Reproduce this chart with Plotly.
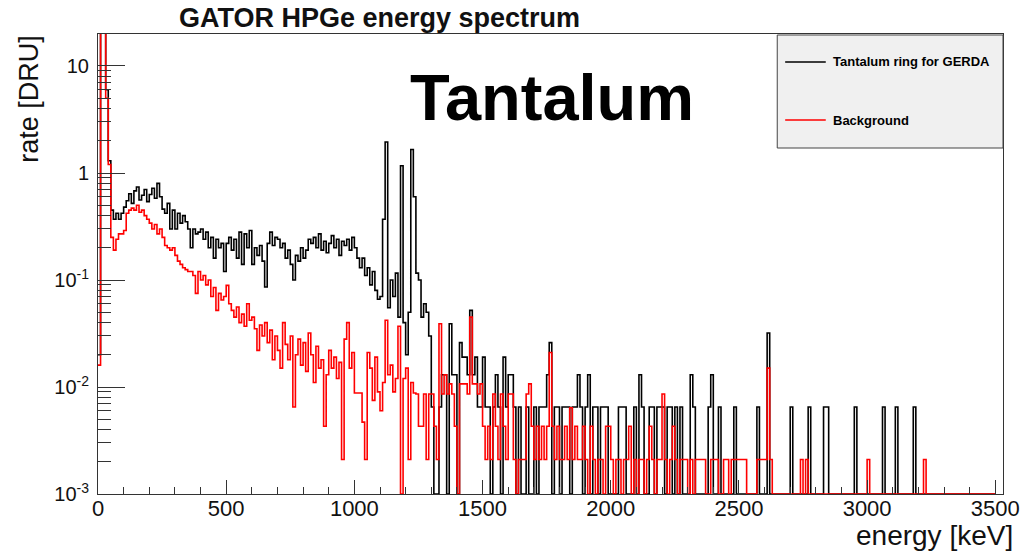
import numpy as np
import plotly.graph_objects as go

# ---------------- data (rate in DRU per 10 keV bin, 0..3500 keV) ----------------
BIN_WIDTH_KEV = 10

tantalum_rate = [
    0.02, 30, 30, 6, 1.3, 0.45, 0.37, 0.42, 0.37, 0.42,
    0.48, 0.55, 0.64, 0.52, 0.68, 0.74, 0.56, 0.62, 0.7, 0.54,
    0.63, 0.72, 0.58, 0.8, 0.6, 0.46, 0.42, 0.52, 0.3, 0.45,
    0.3, 0.42, 0.34, 0.4, 0.35, 0.3, 0.2, 0.3, 0.27, 0.28,
    0.3, 0.24, 0.28, 0.2, 0.25, 0.16, 0.24, 0.2, 0.22, 0.12,
    0.22, 0.25, 0.19, 0.24, 0.16, 0.28, 0.14, 0.27, 0.2, 0.29,
    0.14, 0.2, 0.17, 0.21, 0.15, 0.086, 0.22, 0.28, 0.21, 0.25,
    0.24, 0.2, 0.22, 0.16, 0.19, 0.14, 0.1, 0.17, 0.15, 0.2,
    0.16, 0.19, 0.24, 0.22, 0.25, 0.2, 0.27, 0.19, 0.23, 0.18,
    0.22, 0.26, 0.2, 0.24, 0.17, 0.23, 0.21, 0.24, 0.19, 0.25,
    0.2, 0.16, 0.13, 0.16, 0.11, 0.13, 0.09, 0.12, 0.08, 0.066,
    0.07, 0.37, 1.95, 0.055, 0.1, 0.07, 0.116, 0.045, 1.17, 0.04,
    0.02, 0.05, 1.66, 0.6, 0.116, 0.1, 0.045, 0.06, 0.05, 0.03,
    0.0065, 0, 0, 0.0065, 0.013, 0.013, 0, 0.039, 0.013, 0.013,
    0, 0.026, 0.019, 0.019, 0.013, 0.052, 0.013, 0.019, 0.0065, 0.0065,
    0.019, 0.0065, 0.0065, 0, 0.0065, 0.013, 0.0065, 0, 0.019, 0.0065,
    0.013, 0.013, 0.0065, 0, 0.0065, 0, 0, 0.0065, 0, 0,
    0.0065, 0, 0.0065, 0.0065, 0.0065, 0.013, 0.026, 0, 0.0065, 0.0065,
    0, 0.0065, 0.0065, 0.0065, 0, 0.0065, 0.0065, 0.013, 0.0065, 0,
    0.0065, 0.013, 0, 0.0065, 0.0065, 0, 0.0065, 0.0065, 0.0065, 0,
    0, 0, 0, 0.0065, 0.0065, 0.0065, 0, 0, 0, 0.0065,
    0, 0.013, 0.0065, 0, 0, 0.0065, 0.0065, 0, 0.0065, 0.0065,
    0.0065, 0, 0.0065, 0.0065, 0, 0.0065, 0, 0.0065, 0, 0,
    0, 0.013, 0.0065, 0, 0, 0, 0, 0, 0.0065, 0.013,
    0, 0, 0.0065, 0, 0, 0, 0, 0, 0.0065, 0,
    0, 0, 0, 0, 0, 0, 0, 0.0065, 0, 0,
    0, 0.032, 0, 0, 0, 0, 0, 0, 0, 0,
    0.0065, 0, 0, 0, 0, 0, 0, 0.0065, 0, 0,
    0, 0, 0, 0.0065, 0.0065, 0, 0, 0, 0, 0,
    0, 0, 0, 0, 0, 0.0065, 0, 0, 0, 0,
    0, 0, 0, 0, 0, 0, 0.0065, 0, 0, 0,
    0, 0.0065, 0, 0, 0, 0, 0, 0, 0.0065, 0,
    0, 0, 0, 0, 0, 0, 0, 0, 0, 0,
    0, 0, 0, 0, 0, 0, 0, 0, 0, 0,
    0, 0, 0, 0, 0, 0, 0, 0, 0, 0,
]

background_rate = [
    0.016, 30, 30, 5, 1.2, 0.25, 0.19, 0.24, 0.27, 0.27,
    0.29, 0.42, 0.45, 0.47, 0.45, 0.5, 0.43, 0.45, 0.4, 0.37,
    0.34, 0.3, 0.33, 0.27, 0.3, 0.25, 0.21, 0.2, 0.19, 0.2,
    0.17, 0.15, 0.14, 0.13, 0.125, 0.12, 0.12, 0.11, 0.075, 0.12,
    0.1, 0.11, 0.09, 0.1, 0.07, 0.085, 0.052, 0.075, 0.065, 0.07,
    0.089, 0.06, 0.052, 0.045, 0.056, 0.04, 0.048, 0.037, 0.06, 0.042,
    0.045, 0.035, 0.022, 0.038, 0.03, 0.04, 0.026, 0.034, 0.018, 0.03,
    0.022, 0.015, 0.04, 0.025, 0.018, 0.03, 0.0065, 0.02, 0.028, 0.016,
    0.026, 0.014, 0.032, 0.02, 0.011, 0.024, 0.015, 0.018, 0.0043, 0.013,
    0.022, 0.015, 0.019, 0.012, 0.017, 0.0021, 0.028, 0.04, 0.015, 0.021,
    0.0088, 0.0088, 0.0088, 0.0047, 0.0021, 0.021, 0.015, 0.0075, 0.019, 0.009,
    0.006, 0.011, 0.042, 0.013, 0.016, 0.009, 0.012, 0.037, 0, 0.012,
    0.015, 0.0021, 0.011, 0.0088, 0.0086, 0.0043, 0.0043, 0.0086, 0.0021, 0.0086,
    0.0086, 0.0043, 0.0021, 0.039, 0.0086, 0.013, 0.0086, 0.0107, 0.0086, 0.0043,
    0, 0.0107, 0.0107, 0.0107, 0.0086, 0.045, 0.0107, 0.0107, 0.0086, 0.0107,
    0.0043, 0.0021, 0.0043, 0.0021, 0.0086, 0.0043, 0.0021, 0.0086, 0.0043, 0.0021,
    0.0086, 0.0086, 0.0021, 0, 0.0021, 0.0021, 0.0021, 0.0086, 0.0107, 0.0043,
    0.0021, 0.0043, 0.0021, 0.0043, 0.0021, 0.0043, 0.021, 0.0043, 0.0021, 0.0043,
    0.0021, 0.0021, 0.0043, 0.0021, 0.0064, 0.0021, 0.0043, 0.0021, 0.0021, 0.0043,
    0.0021, 0, 0.0043, 0.0021, 0, 0.0021, 0.0021, 0, 0.0043, 0.0043,
    0.0021, 0, 0.0021, 0.0021, 0, 0.0021, 0.0021, 0.0043, 0, 0.0021,
    0, 0.0021, 0.0021, 0, 0.0021, 0.0043, 0.0021, 0, 0.0021, 0.0021,
    0.0086, 0.0021, 0, 0.0021, 0.0043, 0.0021, 0, 0.0021, 0.0021, 0.0021,
    0, 0.0021, 0, 0.0021, 0.0021, 0.0021, 0.0021, 0, 0, 0.0021,
    0.0021, 0.0021, 0, 0, 0.0021, 0.0021, 0, 0.0021, 0.0021, 0.0021,
    0.0021, 0.0021, 0.0021, 0, 0, 0, 0, 0.0021, 0.0021, 0.0021,
    0.0021, 0.015, 0.0021, 0, 0, 0, 0, 0, 0, 0,
    0, 0, 0, 0, 0.0021, 0, 0.0021, 0, 0, 0,
    0, 0, 0, 0, 0, 0, 0, 0, 0, 0,
    0, 0, 0, 0, 0, 0, 0, 0, 0, 0,
    0.0021, 0, 0, 0, 0, 0, 0, 0, 0, 0,
    0, 0, 0, 0, 0, 0, 0, 0, 0, 0,
    0, 0, 0.0021, 0, 0, 0, 0, 0, 0, 0,
    0, 0, 0, 0, 0, 0, 0, 0, 0, 0,
    0, 0, 0, 0, 0, 0, 0, 0, 0, 0,
]

series_names = ["Tantalum ring for GERDA", "Background"]
series_colors = ["#000000", "#ff0000"]

x_tick_values = [0, 500, 1000, 1500, 2000, 2500, 3000, 3500]
y_tick_values = [1e-3, 1e-2, 1e-1, 1, 10]
y_tick_labels = ["10<sup>-3</sup>", "10<sup>-2</sup>", "10<sup>-1</sup>", "1", "10"]

# ---------------- figure ----------------
W, H = 1032, 551
L, R, T, B = 98, 20, 34, 57
PW, PH = W - L - R, H - T - B
Y_MIN = 1e-3
FONT = "Liberation Sans, Arial, sans-serif"


def px_x(px):
    return (px - L) / PW


def px_y(py):
    return (H - B - py) / PH


edges = np.arange(len(tantalum_rate) + 1) * BIN_WIDTH_KEV


def step_values(vals):
    v = np.asarray(vals, dtype=float)
    v = np.where(v > 0, v, Y_MIN)  # empty bins drawn on the axis floor (ROOT style)
    return np.append(v, v[-1])


fig = go.Figure()
for vals, name, color in zip([tantalum_rate, background_rate], series_names, series_colors):
    fig.add_trace(go.Scatter(
        x=edges, y=step_values(vals), mode="lines", name=name,
        line=dict(color=color, width=1.6, shape="hv"),
        hoverinfo="skip",
    ))

minor_y = [k * 10.0 ** d for d in range(-3, 2) for k in range(2, 10) if k * 10.0 ** d < 19.9]

axis_color = "#333333"
fig.update_layout(
    width=W, height=H,
    margin=dict(l=L, r=R, t=T, b=B, pad=0),
    paper_bgcolor="white", plot_bgcolor="white",
    showlegend=False,
    font=dict(family=FONT, color="black"),
    xaxis=dict(
        range=[0, 3530], tickmode="array", tickvals=x_tick_values,
        ticks="inside", ticklen=14, tickwidth=1, tickcolor=axis_color,
        showline=True, mirror=True, linecolor=axis_color, linewidth=1,
        showgrid=False, zeroline=False,
        tickfont=dict(size=22, family=FONT, color="#111"),
        ticklabelstandoff=-5,
        minor=dict(ticks="inside", ticklen=7, dtick=100, tick0=0, tickcolor=axis_color, showgrid=False),
    ),
    yaxis=dict(
        type="log", range=[-3, 1.299], tickmode="array",
        tickvals=y_tick_values, ticktext=y_tick_labels,
        ticks="inside", ticklen=27, tickwidth=1, tickcolor=axis_color,
        showline=True, mirror=True, linecolor=axis_color, linewidth=1,
        showgrid=False, zeroline=False,
        tickfont=dict(size=20, family=FONT, color="#111"),
        ticklabelstandoff=4,
        minor=dict(tickmode="array", tickvals=minor_y, ticks="inside", ticklen=13,
                   tickcolor=axis_color, showgrid=False),
    ),
)

# legend box (ROOT TLegend style)
lx0, lx1, ly0, ly1 = 784, 1012, 35, 148
fig.add_shape(type="rect", xref="paper", yref="paper",
              x0=px_x(lx0), x1=px_x(lx1), y0=px_y(ly1), y1=px_y(ly0),
              fillcolor="#f0f0f0", line=dict(color="#444", width=1), layer="above")
for name, color, ly in zip(series_names, series_colors, [62, 120]):
    fig.add_shape(type="line", xref="paper", yref="paper",
                  x0=px_x(792), x1=px_x(833), y0=px_y(ly), y1=px_y(ly),
                  line=dict(color=color, width=1.3), layer="above")
    fig.add_annotation(text="<b>%s</b>" % name, xref="paper", yref="paper",
                       x=px_x(838), y=px_y(ly), xanchor="left", yanchor="middle",
                       showarrow=False, font=dict(size=13, family=FONT, color="black"))

# title, big label, axis titles
fig.add_annotation(text="<b>GATOR HPGe energy spectrum</b>", xref="paper", yref="paper",
                   x=px_x(382), y=px_y(18), xanchor="center", yanchor="middle",
                   showarrow=False, font=dict(size=27, family=FONT, color="#111"))
fig.add_annotation(text="<b>Tantalum</b>", xref="paper", yref="paper",
                   x=px_x(557), y=px_y(97), xanchor="center", yanchor="middle",
                   showarrow=False, font=dict(size=65, family=FONT, color="black"))
fig.add_annotation(text="energy [keV]", xref="paper", yref="paper",
                   x=px_x(1024), y=px_y(535), xanchor="right", yanchor="middle",
                   showarrow=False, font=dict(size=28, family=FONT, color="#111"))
fig.add_annotation(text="rate [DRU]", xref="paper", yref="paper", textangle=-90,
                   x=px_x(28), y=px_y(33), xanchor="center", yanchor="top",
                   showarrow=False, font=dict(size=27, family=FONT, color="#111"))

fig.write_html("out.html")
